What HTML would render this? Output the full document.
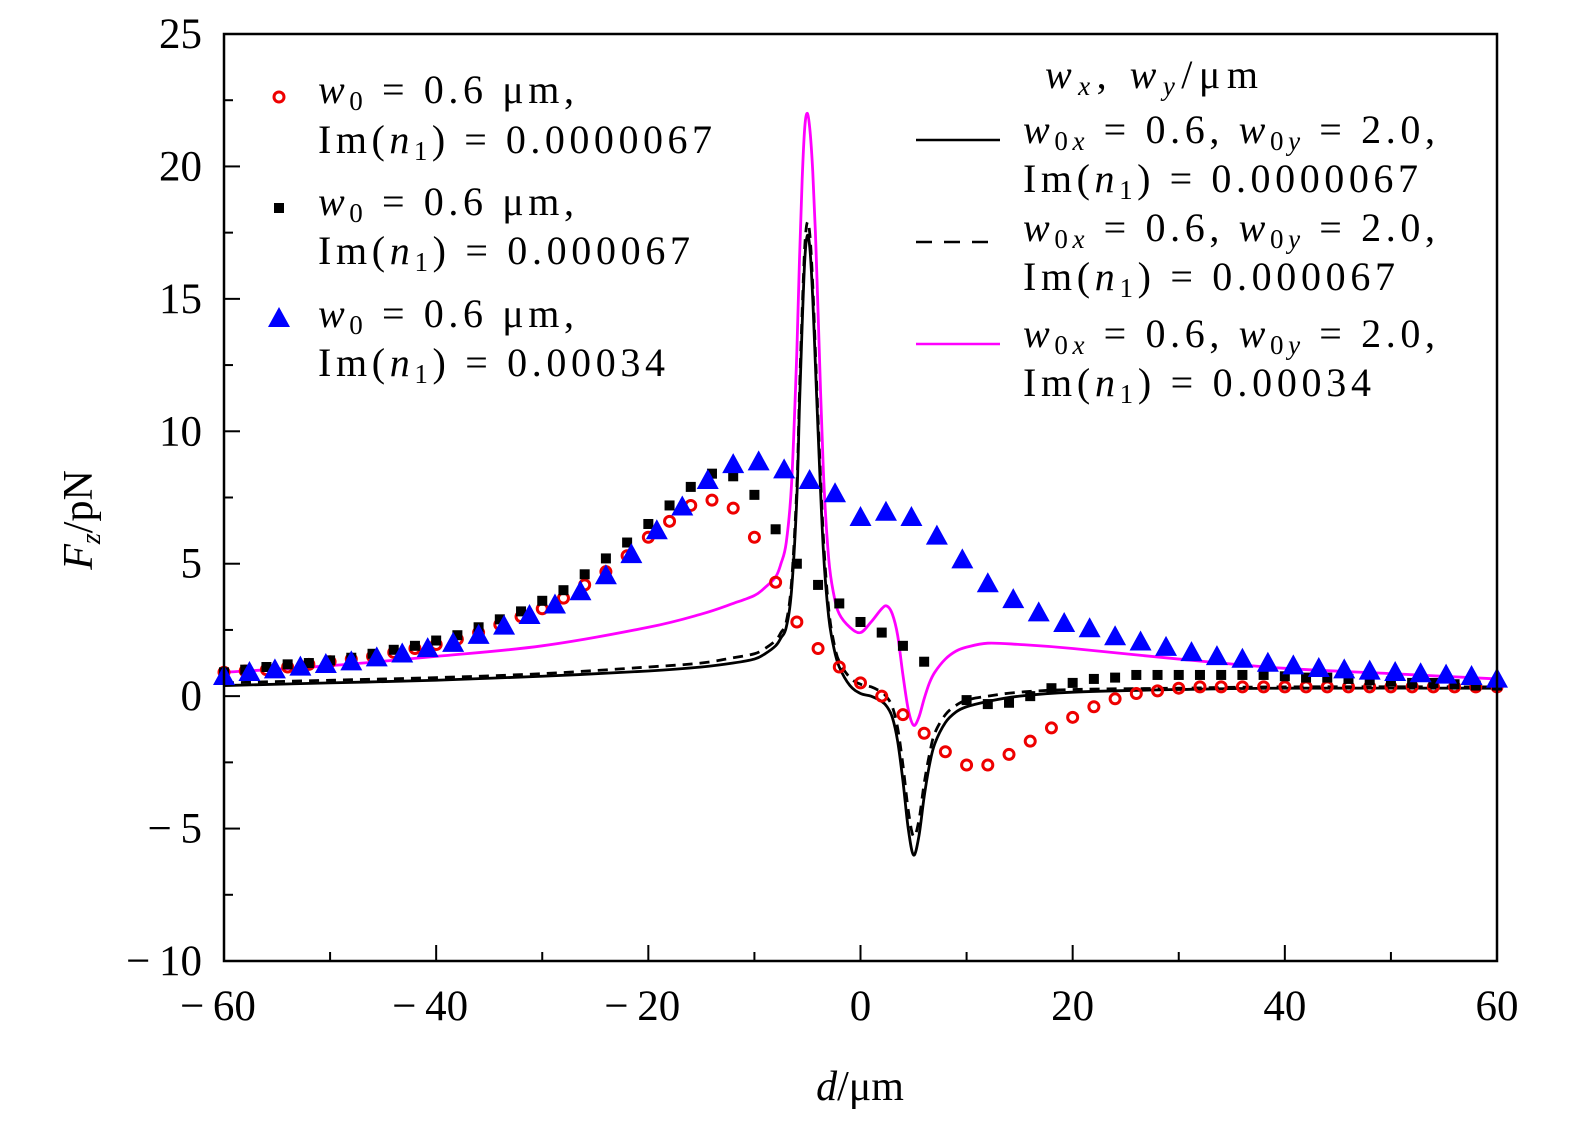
<!DOCTYPE html>
<html><head><meta charset="utf-8"><style>
body{margin:0;background:#fff;}
svg text{font-family:"Liberation Serif",serif;fill:#000;}
</style></head><body>
<svg id="chart" width="1575" height="1132" xmlns="http://www.w3.org/2000/svg">
<g id="marks"></g>
<rect x="224" y="34" width="1273" height="927" fill="none" stroke="#000" stroke-width="2.5"/>
<g id="axes"></g>
<text x="860" y="1100" font-size="42" text-anchor="middle"><tspan font-style="italic">d</tspan>/μm</text>
<text transform="translate(92,520) rotate(-90)" font-size="42" text-anchor="middle"><tspan font-style="italic">F</tspan><tspan font-style="italic" font-size="28" dy="8">z</tspan><tspan dy="-8">/pN</tspan></text>
<g font-size="40">
<circle cx="279" cy="97" r="5" fill="none" stroke="#e00" stroke-width="3"/>
<text x="318" y="103" textLength="256" lengthAdjust="spacing"><tspan font-style="italic">w</tspan><tspan font-size="27" dy="7">0</tspan><tspan dy="-7"> = 0.6 μm,</tspan></text>
<text x="318" y="153" textLength="394" lengthAdjust="spacing">Im(<tspan font-style="italic">n</tspan><tspan font-size="27" dy="7">1</tspan><tspan dy="-7">) = 0.0000067</tspan></text>
<rect x="274" y="203" width="10" height="10" fill="#000"/>
<text x="318" y="215" textLength="256" lengthAdjust="spacing"><tspan font-style="italic">w</tspan><tspan font-size="27" dy="7">0</tspan><tspan dy="-7"> = 0.6 μm,</tspan></text>
<text x="318" y="264" textLength="372" lengthAdjust="spacing">Im(<tspan font-style="italic">n</tspan><tspan font-size="27" dy="7">1</tspan><tspan dy="-7">) = 0.000067</tspan></text>
<polygon points="279,307 268,327 290,327" fill="#00f"/>
<text x="318" y="327" textLength="256" lengthAdjust="spacing"><tspan font-style="italic">w</tspan><tspan font-size="27" dy="7">0</tspan><tspan dy="-7"> = 0.6 μm,</tspan></text>
<text x="318" y="376" textLength="347" lengthAdjust="spacing">Im(<tspan font-style="italic">n</tspan><tspan font-size="27" dy="7">1</tspan><tspan dy="-7">) = 0.00034</tspan></text>
</g>
<g font-size="40">
<text x="1045" y="88" textLength="213" lengthAdjust="spacing"><tspan font-style="italic">w</tspan><tspan font-style="italic" font-size="27" dy="7">x</tspan><tspan dy="-7">, </tspan><tspan font-style="italic">w</tspan><tspan font-style="italic" font-size="27" dy="7">y</tspan><tspan dy="-7">/μm</tspan></text>
<line x1="916" y1="140" x2="1000" y2="140" stroke="#000" stroke-width="2.5"/>
<text x="1023" y="143" textLength="412" lengthAdjust="spacing"><tspan font-style="italic">w</tspan><tspan font-size="27" dy="7">0<tspan font-style="italic">x</tspan></tspan><tspan dy="-7"> = 0.6, </tspan><tspan font-style="italic">w</tspan><tspan font-size="27" dy="7">0<tspan font-style="italic">y</tspan></tspan><tspan dy="-7"> = 2.0,</tspan></text>
<text x="1023" y="192" textLength="395" lengthAdjust="spacing">Im(<tspan font-style="italic">n</tspan><tspan font-size="27" dy="7">1</tspan><tspan dy="-7">) = 0.0000067</tspan></text>
<line x1="916" y1="242" x2="1000" y2="242" stroke="#000" stroke-width="2.5" stroke-dasharray="16,12"/>
<text x="1023" y="241" textLength="412" lengthAdjust="spacing"><tspan font-style="italic">w</tspan><tspan font-size="27" dy="7">0<tspan font-style="italic">x</tspan></tspan><tspan dy="-7"> = 0.6, </tspan><tspan font-style="italic">w</tspan><tspan font-size="27" dy="7">0<tspan font-style="italic">y</tspan></tspan><tspan dy="-7"> = 2.0,</tspan></text>
<text x="1023" y="290" textLength="372" lengthAdjust="spacing">Im(<tspan font-style="italic">n</tspan><tspan font-size="27" dy="7">1</tspan><tspan dy="-7">) = 0.000067</tspan></text>
<line x1="916" y1="344" x2="1000" y2="344" stroke="#f0f" stroke-width="2.5"/>
<text x="1023" y="347" textLength="412" lengthAdjust="spacing"><tspan font-style="italic">w</tspan><tspan font-size="27" dy="7">0<tspan font-style="italic">x</tspan></tspan><tspan dy="-7"> = 0.6, </tspan><tspan font-style="italic">w</tspan><tspan font-size="27" dy="7">0<tspan font-style="italic">y</tspan></tspan><tspan dy="-7"> = 2.0,</tspan></text>
<text x="1023" y="396" textLength="348" lengthAdjust="spacing">Im(<tspan font-style="italic">n</tspan><tspan font-size="27" dy="7">1</tspan><tspan dy="-7">) = 0.00034</tspan></text>
</g>
</svg>
<script>
const xTicks=[-60,-40,-20,0,20,40,60];
const yTicks=[-10,-5,0,5,10,15,20,25];
const redX=[-60,-58,-56,-54,-52,-50,-48,-46,-44,-42,-40,-38,-36,-34,-32,-30,-28,-26,-24,-22,-20,-18,-16,-14,-12,-10,-8,-6,-4,-2,0,2,4,6,8,10,12,14,16,18,20,22,24,26,28,30,32,34,36,38,40,42,44,46,48,50,52,54,56,58,60];
const redY=[0.9,0.95,1.0,1.1,1.2,1.3,1.4,1.5,1.65,1.8,1.95,2.15,2.4,2.7,3.0,3.3,3.7,4.2,4.7,5.3,6.0,6.6,7.2,7.4,7.1,6.0,4.3,2.8,1.8,1.1,0.5,0.0,-0.7,-1.4,-2.1,-2.6,-2.6,-2.2,-1.7,-1.2,-0.8,-0.4,-0.1,0.1,0.2,0.3,0.35,0.35,0.35,0.35,0.35,0.35,0.35,0.35,0.35,0.35,0.35,0.35,0.35,0.35,0.35];
const sqX=[-60,-58,-56,-54,-52,-50,-48,-46,-44,-42,-40,-38,-36,-34,-32,-30,-28,-26,-24,-22,-20,-18,-16,-14,-12,-10,-8,-6,-4,-2,0,2,4,6,10,12,14,16,18,20,22,24,26,28,30,32,34,36,38,40,42,44,46,48,50,52,54,56,58,60];
const sqY=[0.9,1.0,1.1,1.2,1.25,1.35,1.45,1.6,1.75,1.9,2.1,2.3,2.6,2.9,3.2,3.6,4.0,4.6,5.2,5.8,6.5,7.2,7.9,8.4,8.3,7.6,6.3,5.0,4.2,3.5,2.8,2.4,1.9,1.3,-0.15,-0.3,-0.25,0.0,0.3,0.5,0.65,0.7,0.8,0.8,0.8,0.8,0.8,0.8,0.8,0.75,0.7,0.7,0.65,0.6,0.55,0.5,0.5,0.45,0.4,0.4];
const triX=[-60,-57.6,-55.2,-52.8,-50.4,-48,-45.6,-43.2,-40.8,-38.4,-36,-33.6,-31.2,-28.8,-26.4,-24,-21.6,-19.2,-16.8,-14.4,-12,-9.6,-7.2,-4.8,-2.4,0,2.4,4.8,7.2,9.6,12,14.4,16.8,19.2,21.6,24,26.4,28.8,31.2,33.6,36,38.4,40.8,43.2,45.6,48,50.4,52.8,55.2,57.6,60];
const triY=[0.8,0.95,1.05,1.15,1.25,1.35,1.5,1.65,1.85,2.05,2.35,2.7,3.1,3.5,4.0,4.6,5.4,6.3,7.2,8.2,8.8,8.9,8.6,8.2,7.7,6.8,7.0,6.8,6.1,5.2,4.3,3.7,3.2,2.8,2.6,2.3,2.1,1.9,1.7,1.55,1.45,1.3,1.2,1.1,1.05,1.0,0.95,0.9,0.85,0.8,0.7];
const solidX=[-60,-50,-40,-30,-20,-15,-12,-10,-9,-8,-7.5,-7,-6.5,-6,-5.75,-5.5,-5.25,-5,-4.75,-4.5,-4.25,-4,-3.5,-3,-2.5,-2,-1,0,1,2,2.5,3,3.5,4,4.5,5,5.5,6,6.5,7,8,9,10,12,15,20,30,40,60];
const solidY=[0.4,0.5,0.6,0.75,0.95,1.1,1.25,1.4,1.6,1.9,2.2,2.6,4.0,7.5,11,14,16.5,17.4,16.8,15,12.5,10,5.5,3.0,1.8,1.1,0.4,0.1,0.0,-0.2,-0.4,-0.8,-1.7,-3.2,-5.0,-6.0,-5.3,-3.8,-2.6,-1.8,-1.0,-0.6,-0.4,-0.2,0.0,0.15,0.25,0.3,0.3];
const dashX=[-60,-50,-40,-30,-20,-15,-12,-10,-9,-8,-7.5,-7,-6.5,-6,-5.75,-5.5,-5.25,-5,-4.75,-4.5,-4.25,-4,-3.5,-3,-2.5,-2,-1,0,1,2,2.5,3,3.5,4,4.5,5,5.5,6,6.5,7,8,9,10,12,15,20,30,40,60];
const dashY=[0.5,0.6,0.7,0.85,1.1,1.25,1.45,1.6,1.8,2.1,2.4,2.8,4.3,7.9,11.5,14.5,17.0,17.9,17.3,15.5,13,10.5,6.0,3.3,2.0,1.3,0.7,0.45,0.35,0.15,-0.05,-0.4,-1.2,-2.6,-4.3,-5.3,-4.7,-3.3,-2.2,-1.4,-0.7,-0.35,-0.15,0.0,0.15,0.25,0.3,0.35,0.35];
const magX=[-60,-50,-40,-30,-20,-15,-12,-10,-9,-8,-7.5,-7,-6.5,-6,-5.75,-5.5,-5.25,-5,-4.75,-4.5,-4.25,-4,-3.5,-3,-2.5,-2,-1,0,1,2,2.5,3,3.5,4,4.5,5,5.5,6,6.5,7,8,9,10,12,15,20,30,40,50,60];
const magY=[0.9,1.15,1.5,1.9,2.6,3.1,3.5,3.8,4.1,4.5,5.0,5.8,8.0,13,16.5,19.5,21.5,22,21.3,19.8,17.5,14.5,8.5,5.2,3.8,3.1,2.6,2.4,2.8,3.3,3.4,3.1,2.3,0.8,-0.5,-1.1,-0.8,-0.1,0.5,0.9,1.4,1.7,1.85,2.0,1.95,1.8,1.4,1.05,0.85,0.65];
const X0=224,X1=1497,Y0=961,Y1=34;
const sx=v=>X0+(v+60)/120*(X1-X0);
const sy=v=>Y0-(v+10)/35*(Y0-Y1);
const NS="http://www.w3.org/2000/svg";
const marks=document.getElementById('marks'),axes=document.getElementById('axes');
function mk(tag,attrs,parent){const e=document.createElementNS(NS,tag);for(const k in attrs)e.setAttribute(k,attrs[k]);parent.appendChild(e);return e;}
for(let v=-60;v<=60;v+=10){const major=v%20===0;const t=mk('line',{x1:sx(v),x2:sx(v),y1:Y0,y2:Y0-(major?16:9),stroke:'#000','stroke-width':2},axes);

}
for(let v=-10;v<=25;v+=2.5){const major=v%5===0;const t=mk('line',{x1:X0,x2:X0+(major?16:9),y1:sy(v),y2:sy(v),stroke:'#000','stroke-width':2},axes);

}
xTicks.forEach(v=>{const t=mk('text',{x:sx(v)-(v<0?6:0),y:1020,'font-size':43,'text-anchor':'middle'},axes);t.textContent=v<0?'\u2212\u2009'+(-v):String(v);

});
yTicks.forEach(v=>{const t=mk('text',{x:202,y:sy(v)+14,'font-size':43,'text-anchor':'end'},axes);t.textContent=v<0?'\u2212\u2009'+(-v):String(v);

});
function smooth(xs,ys){const P=xs.map((x,i)=>[sx(x),sy(ys[i])]);let d='M'+P[0][0]+','+P[0][1];
for(let i=0;i<P.length-1;i++){const p0=P[Math.max(0,i-1)],p1=P[i],p2=P[i+1],p3=P[Math.min(P.length-1,i+2)];
const c1=[p1[0]+(p2[0]-p0[0])/6,p1[1]+(p2[1]-p0[1])/6],c2=[p2[0]-(p3[0]-p1[0])/6,p2[1]-(p3[1]-p1[1])/6];
d+=` C${c1[0]},${c1[1]} ${c2[0]},${c2[1]} ${p2[0]},${p2[1]}`;}return d;}
function line(xs,ys,color,dash,name){const p=mk('path',{d:smooth(xs,ys),fill:'none',stroke:color,'stroke-width':2.8,'stroke-linejoin':'round'},marks);if(dash)p.setAttribute('stroke-dasharray',dash);

}
line(solidX,solidY,'#000',null,'line-im-0000067');
line(dashX,dashY,'#000','10,7','line-im-000067');
line(magX,magY,'#f0f',null,'line-im-00034');
redX.forEach((x,i)=>{const c=mk('circle',{cx:sx(x),cy:sy(redY[i]),r:5,fill:'none',stroke:'#e00','stroke-width':3},marks);

});
sqX.forEach((x,i)=>{const c=mk('rect',{x:sx(x)-5,y:sy(sqY[i])-5,width:10,height:10,fill:'#000'},marks);

});
triX.forEach((x,i)=>{const cx=sx(x),cy=sy(triY[i]);const c=mk('polygon',{points:`${cx},${cy-10} ${cx-11},${cy+10} ${cx+11},${cy+10}`,fill:'#00f'},marks);

});
</script>
</body></html>
